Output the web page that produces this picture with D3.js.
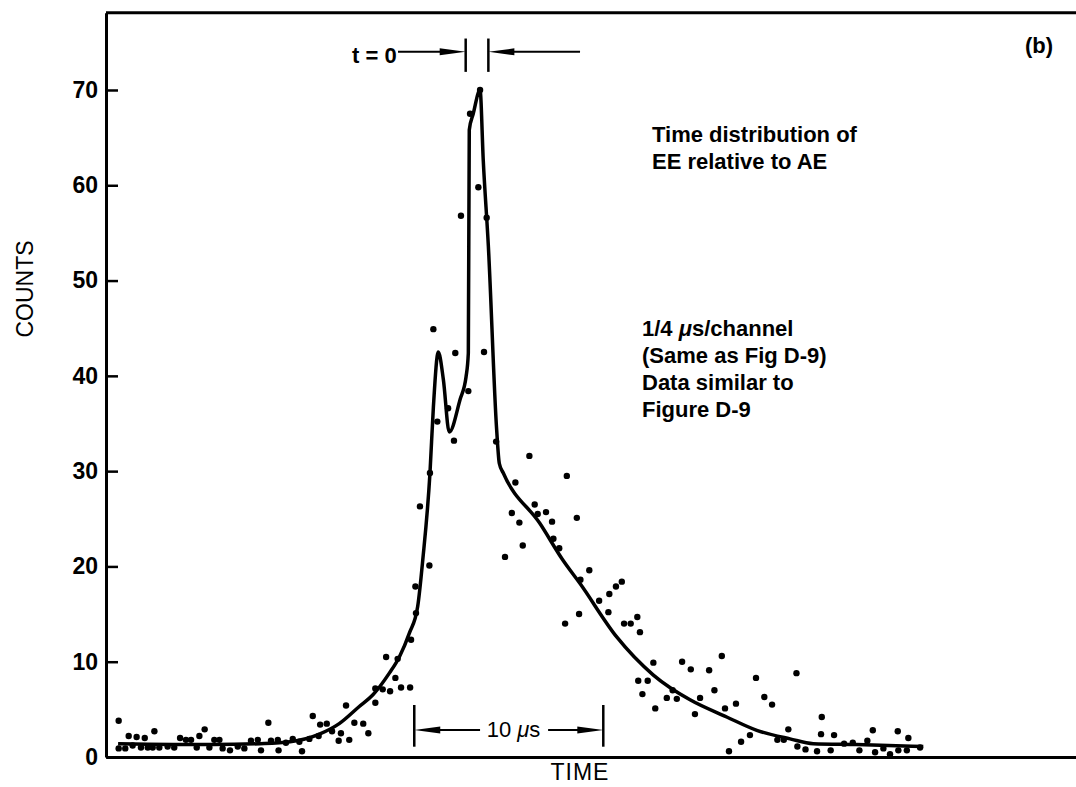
<!DOCTYPE html>
<html>
<head>
<meta charset="utf-8">
<script src="https://cdn.jsdelivr.net/npm/d3@7"></script>
<style>
  body { margin: 0; background: #fff; }
  text { font-family: "Liberation Sans", Arial, sans-serif; fill: #000; }
</style>
</head>
<body>
<div id="main"></div>
<script>
// measured counts, time in microseconds relative to t = 0 (1/4 us per channel)
var dotT = [-18.96, -18.96, -18.61, -18.43, -18.22, -18.01, -17.78, -17.58, -17.42, -17.16,
  -17.07, -16.81, -16.37, -16.02, -15.71, -15.40, -15.13, -14.83, -14.69, -14.41,
  -14.16, -13.90, -13.63, -13.46, -13.07, -12.66, -12.31, -11.96, -11.60, -11.43,
  -11.04, -10.90, -10.54, -10.50, -10.11, -9.75, -9.40, -9.26, -8.87, -8.69,
  -8.38, -8.30, -7.95, -7.67, -7.32, -7.20, -6.93, -6.76, -6.49, -6.02,
  -5.75, -5.38, -5.38, -4.99, -4.81, -4.60, -4.32, -4.20, -4.02, -3.54,
  -3.49, -3.23, -3.26, -3.02, -2.52, -2.49, -2.31, -2.10, -1.53, -1.22,
  -1.15, -0.85, -0.46, -0.37, 0.07, 0.16, 0.37, 0.51, 1.01, 1.48,
  1.84, 2.03, 2.24, 2.42, 2.77, 3.05, 3.21, 3.65, 3.97, 4.04,
  4.35, 4.66, 4.75, 5.28, 5.40, 5.47, 5.94, 6.46, 6.95, 7.00,
  7.35, 7.66, 7.78, 8.13, 8.48, 8.62, 8.53, 8.75, 9.03, 9.33,
  9.43, 10.04, 10.35, 10.57, 10.85, 11.31, 11.53, 11.80, 12.28, 12.56,
  12.95, 13.12, 13.33, 13.70, 13.97, 14.44, 14.76, 15.20, 15.61, 15.89,
  16.23, 16.47, 16.90, 16.95, 17.38, 17.99, 18.20, 18.24, 18.71, 18.89,
  19.42, 19.88, 20.23, 20.65, 20.94, 21.06, 21.50, 21.85, 22.26, 22.29,
  22.74, 22.82, 23.44];
var dotC = [3.8, 0.9, 0.9, 2.2, 1.2, 2.1, 1.0, 2.0, 1.0, 1.0,
  2.7, 1.0, 1.1, 1.0, 2.0, 1.8, 1.8, 1.0, 2.2, 2.9,
  1.0, 1.8, 1.8, 0.9, 0.7, 1.1, 0.9, 1.7, 1.8, 0.7,
  3.6, 1.7, 1.8, 0.7, 1.5, 1.9, 1.6, 0.6, 1.9, 4.3,
  2.2, 3.4, 3.5, 2.7, 1.7, 2.5, 5.4, 1.8, 3.6, 3.5,
  2.5, 5.7, 7.2, 7.1, 10.5, 6.9, 8.3, 10.3, 7.3, 7.3,
  12.3, 15.1, 17.9, 26.3, 20.1, 29.8, 44.9, 35.2, 36.6, 33.2,
  42.4, 56.8, 38.4, 67.5, 59.8, 70.0, 42.5, 56.6, 33.1, 21.0,
  25.6, 28.8, 24.6, 22.2, 31.6, 26.5, 25.5, 25.7, 24.7, 22.9,
  21.9, 14.0, 29.5, 25.1, 15.0, 18.6, 19.6, 16.4, 15.2, 17.1,
  17.9, 18.4, 14.0, 14.0, 14.7, 13.1, 8.0, 6.6, 8.0, 9.9,
  5.1, 6.2, 7.0, 6.1, 10.0, 9.2, 4.5, 6.2, 9.1, 7.0,
  10.6, 5.1, 0.6, 5.6, 1.6, 2.3, 8.3, 6.3, 5.5, 1.8,
  1.8, 2.9, 8.8, 1.1, 0.8, 0.6, 2.4, 4.2, 0.7, 2.3,
  1.4, 1.5, 0.7, 1.7, 2.8, 0.5, 0.9, 0.3, 2.7, 0.7,
  0.7, 2.0, 1.0];

// hand-drawn fit through the data
var fitT = [-18.99, -14.0, -11.48, -9.89, -8.34, -7.29, -6.23, -5.52, -4.64, -4.11,
  -3.58, -3.14, -2.87, -2.49, -2.31, -2.05, -1.78, -1.47, -0.90, -0.58,
  -0.46, -0.41, -0.20, 0.16, 0.33, 0.60, 1.04, 1.18, 1.39, 3.33,
  4.53, 5.45, 7.39, 9.33, 11.27, 13.21, 14.80, 16.56, 17.79, 20.09, 23.61];
var fitC = [1.4, 1.3, 1.4, 1.6, 2.4, 3.5, 5.3, 6.5, 8.8, 10.5,
  13.0, 15.8, 20.7, 29.8, 36.7, 42.5, 39.6, 34.1, 37.5, 39.9,
  42.4, 65.8, 67.5, 70.0, 62.6, 53.6, 34.3, 30.8, 29.8, 24.5,
  20.7, 18.2, 12.6, 8.6, 6.0, 4.2, 2.8, 1.9, 1.4, 1.3, 1.1];

var yTicks = [0, 10, 20, 30, 40, 50, 60, 70];

var ctx = {
    w: 1076,
    h: 787,
    left: 106,
    top: 12.8,
    bottom: 757,
    fontSize: 22
};

var initSVGcanvas = function(){
    // 18.9 px per microsecond, t = 0 at x = 477
    ctx.xScale = d3.scaleLinear().domain([-19.63, 31.69]).range([ctx.left, ctx.w]);
    ctx.yScale = d3.scaleLinear().domain([0, 78.1]).range([ctx.bottom, ctx.top]);

    var bkg = d3.select("#bkgG");

    // y axis: ticks point inward, labels on the left
    var yAxis = bkg.append("g")
      .attr("transform", `translate(${ctx.left},0)`)
      .call(d3.axisLeft(ctx.yScale).tickValues(yTicks)
              .tickSizeInner(-12).tickSizeOuter(0).tickPadding(8));
    yAxis.select(".domain").attr("stroke-width", 3);
    yAxis.selectAll(".tick line").attr("stroke-width", 2.5);
    yAxis.selectAll("text")
      .style("font-family", "'Liberation Sans', Arial, sans-serif")
      .style("font-size", "23px")
      .style("font-weight", "bold");

    // x axis: plain line, no ticks
    var xAxis = bkg.append("g")
      .attr("transform", `translate(0,${ctx.bottom})`)
      .call(d3.axisBottom(ctx.xScale).tickValues([]).tickSizeOuter(0));
    xAxis.select(".domain").attr("stroke-width", 3);

    // top frame line
    bkg.append("line")
      .attr("x1", ctx.left).attr("x2", ctx.w)
      .attr("y1", ctx.top).attr("y2", ctx.top)
      .attr("stroke", "black")
      .attr("stroke-width", 3);

    // axis labels
    bkg.append("text")
      .attr("transform", "translate(33,289) rotate(-90)")
      .attr("text-anchor", "middle")
      .style("font-size", "23px")
      .text("COUNTS");
    bkg.append("text")
      .attr("x", 580)
      .attr("y", 780)
      .attr("text-anchor", "middle")
      .style("font-size", "23px")
      .style("letter-spacing", "1px")
      .text("TIME");
};

var drawArrow = function(g, xFrom, xTo, y){
    // line from xFrom to xTo, filled head at xTo
    var dir = xTo > xFrom ? 1 : -1;
    g.append("line")
      .attr("x1", xFrom).attr("x2", xTo - dir * 20)
      .attr("y1", y).attr("y2", y)
      .attr("stroke", "black")
      .attr("stroke-width", 2);
    g.append("path")
      .attr("d", `M${xTo},${y} L${xTo - dir * 26},${y - 3.5} L${xTo - dir * 26},${y + 3.5} Z`)
      .attr("fill", "black");
};

var drawBar = function(g, x, y1, y2){
    g.append("line")
      .attr("x1", x).attr("x2", x)
      .attr("y1", y1).attr("y2", y2)
      .attr("stroke", "black")
      .attr("stroke-width", 2.5);
};

var populateSVGcanvas = function(){
    var group = d3.select("#rootG");
    var x = ctx.xScale, y = ctx.yScale;

    // fitted curve
    var fit = fitT.map(function(t, i){ return {t: t, c: fitC[i]}; });
    var line = d3.line()
      .x(function(d){ return x(d.t); })
      .y(function(d){ return y(d.c); })
      .curve(d3.curveMonotoneX);
    group.append("path")
      .datum(fit)
      .attr("d", line)
      .attr("fill", "none")
      .attr("stroke", "black")
      .attr("stroke-width", 3.5)
      .attr("stroke-linejoin", "round");

    // data points
    var dots = dotT.map(function(t, i){ return {t: t, c: dotC[i]}; });
    group.selectAll("circle.pt")
      .data(dots)
      .enter()
      .append("circle")
      .attr("class", "pt")
      .attr("cx", function(d){ return x(d.t); })
      .attr("cy", function(d){ return y(d.c); })
      .attr("r", 3.2)
      .attr("fill", "black");

    // t = 0 window marker
    var ann = group.append("g");
    drawBar(ann, x(-0.6), y(75.4), y(71.9));
    drawBar(ann, x(0.6), y(75.4), y(71.9));
    drawArrow(ann, x(-4.18), x(-0.6), y(74.0));
    drawArrow(ann, x(5.45), x(0.6), y(74.0));
    ann.append("text")
      .attr("x", x(-4.2) - 1)
      .attr("y", 63)
      .attr("text-anchor", "end")
      .style("font-size", ctx.fontSize + "px")
      .style("font-weight", "bold")
      .text("t = 0");

    // 10 us scale marker
    drawBar(ann, x(-3.32), y(5.46), y(1.08));
    drawBar(ann, x(6.68), y(5.46), y(1.08));
    drawArrow(ann, x(0.16), x(-3.32), y(2.83));
    drawArrow(ann, x(3.76), x(6.68), y(2.83));
    var tenUs = ann.append("text")
      .attr("x", 486.7)
      .attr("y", 737)
      .style("font-size", ctx.fontSize + "px");
    tenUs.append("tspan").text("10 ");
    tenUs.append("tspan").style("font-style", "italic").text("\u03bc");
    tenUs.append("tspan").text("s");

    // panel tag and notes
    ann.append("text")
      .attr("x", 1025).attr("y", 53)
      .style("font-size", ctx.fontSize + "px")
      .style("font-weight", "bold")
      .text("(b)");

    var note1 = ["Time distribution of", "EE relative to AE"];
    note1.forEach(function(s, i){
      ann.append("text")
        .attr("x", 652).attr("y", 142 + i * 26.5)
        .style("font-size", ctx.fontSize + "px")
        .style("font-weight", "bold")
        .text(s);
    });

    var first = ann.append("text")
      .attr("x", 642).attr("y", 336)
      .style("font-size", ctx.fontSize + "px")
      .style("font-weight", "bold");
    first.append("tspan").text("1/4 ");
    first.append("tspan").style("font-style", "italic").text("\u03bc");
    first.append("tspan").text("s/channel");
    var note2 = ["(Same as Fig D-9)", "Data similar to", "Figure D-9"];
    note2.forEach(function(s, i){
      ann.append("text")
        .attr("x", 642).attr("y", 363 + i * 27)
        .style("font-size", ctx.fontSize + "px")
        .style("font-weight", "bold")
        .text(s);
    });
};

var createViz = function(){
    var svgEl = d3.select("#main").append("svg");
    svgEl.attr("width", ctx.w);
    svgEl.attr("height", ctx.h);
    var rootG = svgEl.append("g").attr("id", "rootG");
    rootG.append("g").attr("id", "bkgG");
    initSVGcanvas();
    populateSVGcanvas();
};

createViz();
</script>
</body>
</html>
